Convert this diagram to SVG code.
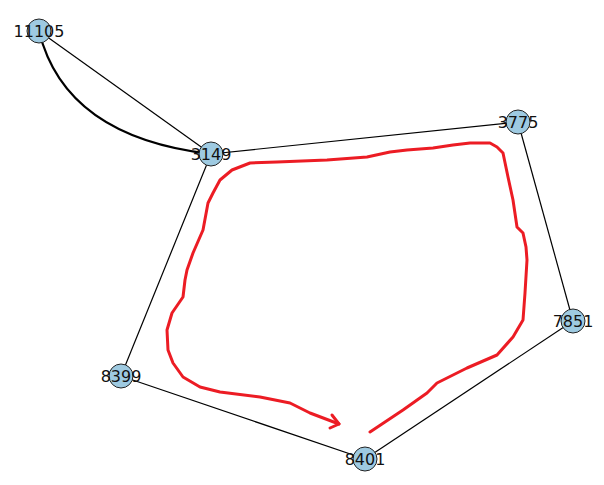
<svg xmlns="http://www.w3.org/2000/svg" width="604" height="485" viewBox="0 0 604 485">
<style>
.e{stroke:#000;stroke-width:1.2;fill:none}
.n circle{fill:#9ecae1;stroke:#222;stroke-width:1}
.n text{font-family:"DejaVu Sans",sans-serif;font-size:16px;fill:#111;text-anchor:middle}
.red{stroke:#ec1c24;stroke-width:3;fill:none;stroke-linejoin:round;stroke-linecap:round}
</style>
<rect width="604" height="485" fill="#fff"/>
<g id="connectors">
<line class="e" x1="39" y1="31" x2="211" y2="154"/>
<path class="e" style="stroke-width:2.2" d="M39,31 Q65,137 211,154"/>
<line class="e" x1="211" y1="154" x2="518" y2="122"/>
<line class="e" x1="518" y1="122" x2="573" y2="321"/>
<line class="e" x1="573" y1="321" x2="365" y2="459"/>
<line class="e" x1="365" y1="459" x2="121" y2="376"/>
<line class="e" x1="121" y1="376" x2="211" y2="154"/>
</g>
<g id="annotation">
<path class="red" d="M370,432 L403,410 L427,393 L437,383 L467,368 L497,355 L513,337 L523,320 L525,293 L527,260 L526,247 L523,233 L517,227 L513,200 L508,177 L503,153 L497,147 L490,143 L470,143 L453,145 L433,148 L407,150 L390,152 L367,157 L327,160 L277,162 L250,163 L232,170 L220,180 L213,193 L208,203 L203,230 L193,253 L187,270 L185,280 L183,297 L172,313 L167,330 L168,350 L173,363 L183,377 L200,387 L220,392 L260,397 L290,403 L310,413 L339,424"/>
<path class="red" d="M332,415 L339,424 L330,428"/>
</g>
<g id="n11105" class="n"><circle cx="39" cy="31" r="12"/><text x="39" y="37">11105</text></g>
<g id="n3149" class="n"><circle cx="211" cy="154" r="12"/><text x="211" y="160">3149</text></g>
<g id="n3775" class="n"><circle cx="518" cy="122" r="12"/><text x="518" y="128">3775</text></g>
<g id="n7851" class="n"><circle cx="573" cy="321" r="12"/><text x="573" y="327">7851</text></g>
<g id="n8399" class="n"><circle cx="121" cy="376" r="12"/><text x="121" y="382">8399</text></g>
<g id="n8401" class="n"><circle cx="365" cy="459" r="12"/><text x="365" y="465">8401</text></g>
</svg>
